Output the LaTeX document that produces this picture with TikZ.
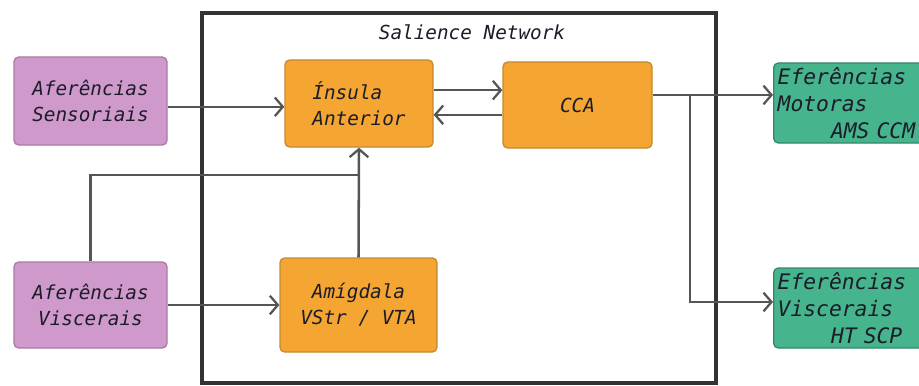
\documentclass[tikz,border=0pt]{standalone}
\usepackage{fontspec}
\setmonofont{DejaVu Sans Mono}
\usetikzlibrary{arrows.meta, positioning}
\definecolor{cink}{HTML}{1C1C2A}
\definecolor{cline}{HTML}{555555}
\definecolor{cframe}{HTML}{333333}
\definecolor{cpink}{HTML}{CF9ACB}
\definecolor{cpinkd}{HTML}{A97AA5}
\definecolor{corange}{HTML}{F5A532}
\definecolor{corangd}{HTML}{C48A2E}
\definecolor{cgreen}{HTML}{46B48C}
\definecolor{cgreend}{HTML}{34876A}

\begin{document}
\begin{tikzpicture}[
  x=0.75pt, y=-0.75pt,
  font=\ttfamily\itshape\fontsize{14.5}{19.5}\selectfont,
  col/.style={text=cink, rounded corners=3.5pt, line width=1pt, inner sep=2pt},
  affbox/.style={col, draw=cpinkd, fill=cpink, align=center,
                 minimum width=114.75pt, minimum height=66pt},
  salbox/.style={col, draw=corangd, fill=corange},
  effbox/.style={col, draw=cgreend, fill=cgreen, align=left, anchor=west,
                 text width=124pt, inner xsep=3pt, minimum height=60pt,
                 font=\ttfamily\itshape\fontsize{16}{20.5}\selectfont},
  head/.style={text=cink},
  line/.style={draw=cline, line width=1.9pt},
  flow/.style={line, -{Straight Barb[length=6pt, width=14pt, line width=1.7pt]}}
]
\clip (0,0) rectangle (919,385);

% salience frame
\draw[draw=cframe, line width=2.8pt] (202,13) rectangle (716,383);
\node[head] (title) at (472,32) {Salience Network};

% afferents
\node[affbox] (saf) at (90.5,101) {Aferências\\Sensoriais};
\node[affbox, minimum height=64.5pt] (vaf) at (90.5,305) {Aferências\\Viscerais};

% network nodes
\node[salbox, align=left, minimum width=111pt, minimum height=65.25pt]
  (ins) at (359,103.5) {Ínsula\\Anterior};
\node[salbox, minimum width=111.75pt, minimum height=64.5pt]
  (cca) at (577.5,105) {CCA};
\node[salbox, align=center, minimum width=117.75pt, minimum height=70.5pt]
  (amg) at (358.5,305) {Amígdala\\VStr / VTA};

% efferents
\node[effbox] (mot) at (773,103) {Eferências\\Motoras\\\hspace*{40pt}AMS CCM};
\node[effbox] (vef) at (773,308) {Eferências\\Viscerais\\\hspace*{40pt}HT SCP};

% connectors
\coordinate (split) at (690,95);
\coordinate (merge) at (amg.north |- 0,175);
\draw[flow] ([yshift=-2.5pt]saf.east |- ins) -- ([yshift=-2.5pt]ins.west);
\draw[flow] ([yshift=10pt]ins.east) -- ([yshift=10pt]ins.east -| cca.west);
\draw[flow] ([yshift=-8.5pt]ins.east -| cca.west) -- ([yshift=-8.5pt]ins.east);
\draw[flow] (vaf) -- (amg);
\draw[line] (vaf.north) |- (merge);
\draw[flow] (amg.north) -- (ins.south);
\draw[line] (cca.east |- split) -- (split);
\draw[flow] (split) -- (mot.west |- split);
\draw[flow] (split) |- ([yshift=4.5pt]vef.west);
\end{tikzpicture}
\end{document}
